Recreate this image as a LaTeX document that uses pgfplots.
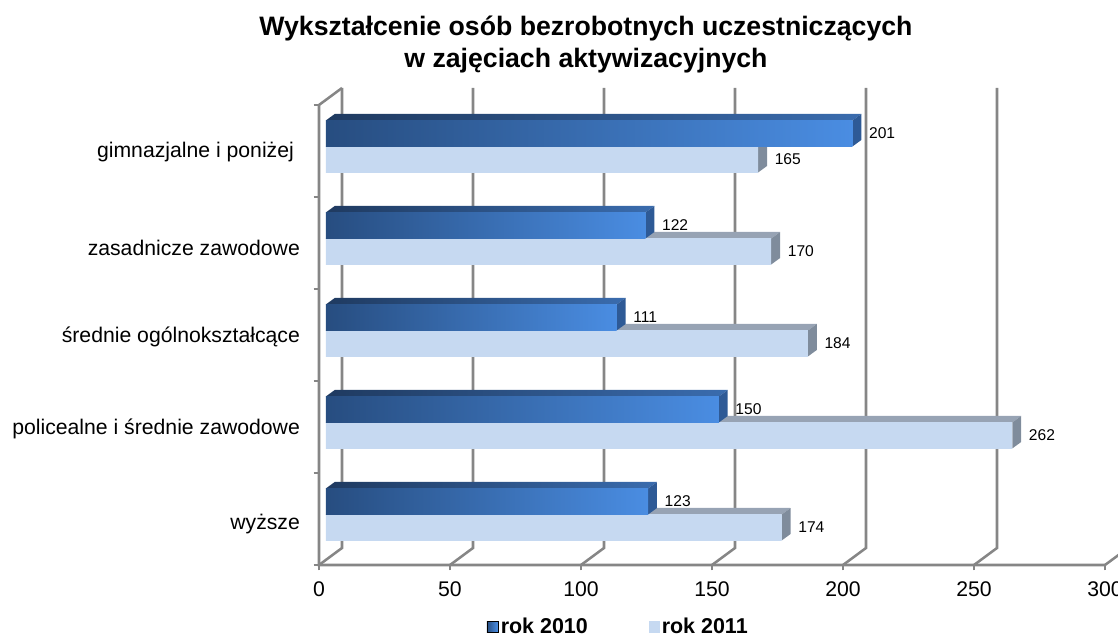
\documentclass[border=0pt]{standalone}
\usepackage{fontspec}
\setmainfont{Liberation Sans}
\usepackage{pgfplots}
\pgfplotsset{compat=1.18}

\definecolor{gridc}{HTML}{868686}
\definecolor{darkL}{HTML}{274D80}
\definecolor{darkR}{HTML}{4A8DE2}
\definecolor{darkTL}{HTML}{1F3A60}
\definecolor{darkTR}{HTML}{3A6CAE}
\definecolor{darkS}{HTML}{2E5A96}
\definecolor{lightF}{HTML}{C6D9F1}
\definecolor{lightT}{HTML}{97A3B4}
\definecolor{lightS}{HTML}{7F8C9C}

% y axis is in reference pixels above the floor line, x axis in data units (2.62 px each)
\newcommand{\gridline}[1]{%
  \pgfmathsetmacro\gx{#1+8.78}%
  \addplot[gridc, line width=1.9pt, forget plot] coordinates {(#1,0)(\gx,17)(\gx,477)};}

% faces of one bar: #1 y centre, #2 value, #3 #4 front colours, #5 #6 top colours, #7 side colour
\newcommand{\threedbar}[7]{%
  \pgfmathsetmacro\xa{2.6}%
  \pgfmathsetmacro\xb{#2+2.6}%
  \pgfmathsetmacro\xc{#2+2.6+3.4}%
  \pgfmathsetmacro\xd{2.6+3.4}%
  \pgfmathsetmacro\yt{#1+13}%
  \pgfmathsetmacro\yb{#1-13}%
  \pgfmathsetmacro\ytt{#1+19.5}%
  \pgfmathsetmacro\ybb{#1-6.5}%
  \addplot[draw=none, left color=#5, right color=#6, forget plot]
    coordinates {(\xa,\yt)(\xb,\yt)(\xc,\ytt)(\xd,\ytt)} -- cycle;
  \addplot[draw=none, fill=#7, forget plot]
    coordinates {(\xb,\yt)(\xc,\ytt)(\xc,\ybb)(\xb,\yb)} -- cycle;
  \addplot[xbar, bar shift=0pt, bar width=19.5pt, xshift=5.1pt, draw=none,
    left color=#3, right color=#4, forget plot, point meta=x,
    nodes near coords,
    every node near coord/.append style={anchor=west, xshift=12.3pt, inner sep=0pt,
      text=black, font=\fontsize{11.7}{13}\selectfont}]
    coordinates {(#2,#1)};}

\begin{document}
\begin{tikzpicture}
\useasboundingbox (0,0) rectangle (838.5pt,475.5pt);
\clip (0,0) rectangle (838.5pt,475.5pt);
\begin{axis}[
    at={(239.25pt,51.75pt)}, anchor=south west,
    scale only axis, width=589.5pt, height=357.75pt,
    xmin=0, xmax=300, ymin=0, ymax=477,
    clip=false,
    axis lines*=left,
    axis line style={draw=none},
    /pgf/number format/assume math mode=true,
    tick label style={font=\fontsize{15.9}{18}\selectfont},
    xtick={0,50,100,150,200,250,300},
    xtick style={gridc, line width=1.9pt},
    tick align=outside,
    major tick length=4pt,
    xticklabel style={yshift=-5pt},
    ytick={413,317.5,228,136,41},
    yticklabels={gimnazjalne i poniżej\kern4.5pt,zasadnicze zawodowe,średnie ogólnokształcące,policealne i średnie zawodowe,wyższe},
    ytick style={draw=none},
    yticklabel style={xshift=-6.8pt},
    extra y ticks={0,92,184,276,368,460},
    extra y tick labels={},
    extra y tick style={ytick style={draw=gridc, line width=1.9pt}},
    title={Wykształcenie osób bezrobotnych uczestniczących\\w zajęciach aktywizacyjnych},
    title style={at={(axis cs:101.9,523)}, anchor=center, align=center, yshift=-8pt,
      font=\fontsize{20}{24}\selectfont\bfseries},
    legend columns=2,
    legend style={at={(axis cs:114.3,-62)}, anchor=center, draw=none, fill=none,
      font=\fontsize{16.1}{18}\selectfont\bfseries, inner sep=0pt,
      /tikz/every even column/.style={column sep=43.5pt}},
  ]
  \gridline{0}\gridline{50}\gridline{100}\gridline{150}\gridline{200}\gridline{250}\gridline{300}
  \addplot[gridc, line width=1.9pt, forget plot] coordinates {(8.78,477)(0,460)(0,0)(300,0)};

  \threedbar{405.5}{165}{lightF}{lightF}{lightT}{lightT}{lightS}
  \threedbar{431.5}{201}{darkL}{darkR}{darkTL}{darkTR}{darkS}
  \threedbar{313.5}{170}{lightF}{lightF}{lightT}{lightT}{lightS}
  \threedbar{339.5}{122}{darkL}{darkR}{darkTL}{darkTR}{darkS}
  \threedbar{221.5}{184}{lightF}{lightF}{lightT}{lightT}{lightS}
  \threedbar{247.5}{111}{darkL}{darkR}{darkTL}{darkTR}{darkS}
  \threedbar{129.5}{262}{lightF}{lightF}{lightT}{lightT}{lightS}
  \threedbar{155.5}{150}{darkL}{darkR}{darkTL}{darkTR}{darkS}
  \threedbar{37.5}{174}{lightF}{lightF}{lightT}{lightT}{lightS}
  \threedbar{63.5}{123}{darkL}{darkR}{darkTL}{darkTR}{darkS}

  \addlegendimage{legend image code/.code={\shade[left color=darkL, right color=darkR] (0pt,-4.1pt) rectangle (8.25pt,4.1pt);}}
  \addlegendentry{rok 2010}
  \addlegendimage{legend image code/.code={\fill[lightF] (0pt,-4.1pt) rectangle (7.5pt,4.1pt);}}
  \addlegendentry{rok 2011}
\end{axis}
\end{tikzpicture}
\end{document}
